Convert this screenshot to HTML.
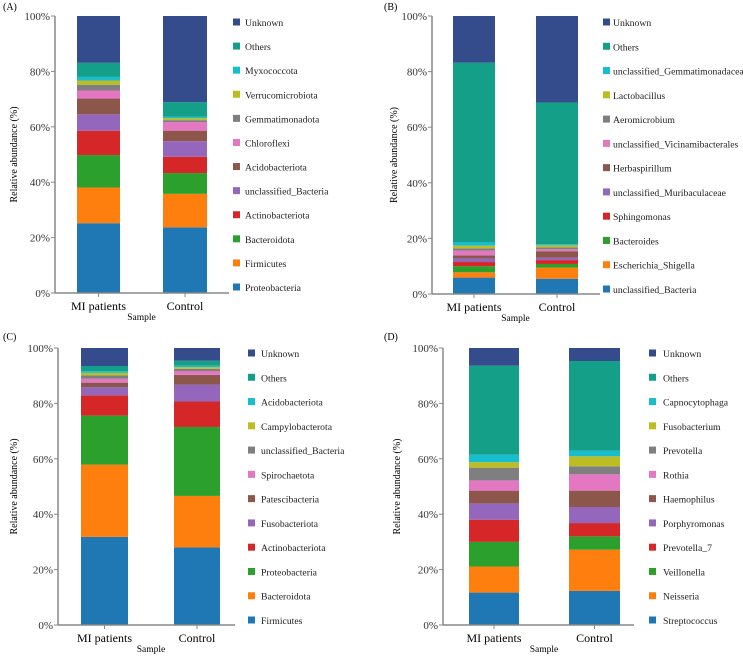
<!DOCTYPE html>
<html><head><meta charset="utf-8"><style>
html,body{margin:0;padding:0;background:#fff;}
svg{display:block;font-family:"Liberation Serif",serif;}
</style></head><body>
<svg id="fig" width="743" height="656" viewBox="0 0 743 656"></svg>
<script>
const categories = ["MI patients","Control"];
const yTicks = ["0%","20%","40%","60%","80%","100%"];
const yTickValues = [0,20,40,60,80,100];
const colorsList = ["#1f77b4","#ff7f0e","#2ca02c","#d62728","#9467bd","#8c564b","#e377c2","#7f7f7f","#bcbd22","#17becf","#14a088","#344b8c"];

const seriesA = ["Proteobacteria","Firmicutes","Bacteroidota","Actinobacteriota","unclassified_Bacteria","Acidobacteriota","Chloroflexi","Gemmatimonadota","Verrucomicrobiota","Myxococcota","Others","Unknown"];
const cumA_MI = [25.2,38.1,49.8,58.6,64.5,70.2,73.1,75.2,76.7,78.0,83.1,100];
const cumA_Ctrl = [23.7,35.8,43.3,49.2,54.8,58.6,61.7,62.4,63.1,63.6,68.9,100];

const seriesB = ["unclassified_Bacteria","Escherichia_Shigella","Bacteroides","Sphingomonas","unclassified_Muribaculaceae","Herbaspirillum","unclassified_Vicinamibacterales","Aeromicrobium","Lactobacillus","unclassified_Gemmatimonadaceae","Others","Unknown"];
const cumB_MI = [5.9,7.8,10.0,11.5,12.8,13.9,15.6,16.4,17.4,18.7,83.2,100];
const cumB_Ctrl = [5.5,9.5,10.8,12.2,13.1,15.4,16.1,16.8,17.5,17.9,68.9,100];

const seriesC = ["Firmicutes","Bacteroidota","Proteobacteria","Actinobacteriota","Fusobacteriota","Patescibacteria","Spirochaetota","unclassified_Bacteria","Campylobacterota","Acidobacteriota","Others","Unknown"];
const cumC_MI = [31.8,57.9,75.6,82.9,85.9,87.5,88.9,90.1,91.0,91.6,93.5,100];
const cumC_Ctrl = [28.0,46.6,71.5,80.7,86.8,90.3,91.7,92.5,93.1,93.6,95.4,100];

const seriesD = ["Streptococcus","Neisseria","Veillonella","Prevotella_7","Porphyromonas","Haemophilus","Rothia","Prevotella","Fusobacterium","Capnocytophaga","Others","Unknown"];
const cumD_MI = [11.7,21.1,30.0,38.0,43.9,48.5,52.2,56.8,58.8,61.5,93.6,100];
const cumD_Ctrl = [12.3,27.2,32.0,36.8,42.6,48.5,54.4,57.3,60.9,62.9,95.3,100];

const panels = [
 {label:"(A)",lx:3,ly:10,ax:55,top:16,bot:293,axEnd:229,bars:[[77,120],[163,207]],lgSq:233,lgTx:245,lgTop:22,lgBot:287,ytx:17,series:seriesA,data:[cumA_MI,cumA_Ctrl]},
 {label:"(B)",lx:384,ly:10,ax:432,top:16,bot:294,axEnd:600,bars:[[453,495],[536,578]],lgSq:603,lgTx:613,lgTop:22,lgBot:289,ytx:397,series:seriesB,data:[cumB_MI,cumB_Ctrl]},
 {label:"(C)",lx:3,ly:340,ax:58,top:348,bot:625,axEnd:235,bars:[[81,128],[174,220]],lgSq:248,lgTx:261,lgTop:353,lgBot:620,ytx:17,series:seriesC,data:[cumC_MI,cumC_Ctrl]},
 {label:"(D)",lx:384,ly:340,ax:443,top:348,bot:625,axEnd:634,bars:[[469,519],[569,620]],lgSq:649,lgTx:663,lgTop:353,lgBot:620,ytx:400,series:seriesD,data:[cumD_MI,cumD_Ctrl]}
];
const NS="http://www.w3.org/2000/svg";
const svg=document.getElementById("fig");
function mk(tag,attrs,parent,text){const e=document.createElementNS(NS,tag);for(const k in attrs)e.setAttribute(k,attrs[k]);if(text!==undefined)e.textContent=text;parent.appendChild(e);return e;}
panels.forEach((p,pi)=>{
 const g=mk("g",{},svg);
 
 
 const y=v=>p.bot-(v/100)*(p.bot-p.top);
 const lab=mk("text",{x:p.lx,y:p.ly,"font-size":"10"},g,p.label);
 
 
 p.data.forEach((cum,bi)=>{
  const [x0,x1]=p.bars[bi];
  let prev=0;
  cum.forEach((c,si)=>{
   const r=mk("rect",{x:x0,y:y(c),width:x1-x0,height:Math.max(0,y(prev)-y(c)),fill:colorsList[si]},g);
   
   
   prev=c;
  });
  const cl=mk("text",{x:(x0+x1)/2,y:p.bot+17,"font-size":"12","text-anchor":"middle"},g,categories[bi]);
  
  
  mk("line",{x1:(x0+x1)/2,x2:(x0+x1)/2,y1:p.bot,y2:p.bot+4,stroke:"#888","stroke-width":1},g);
 });
 const ya=mk("line",{x1:p.ax,x2:p.ax,y1:p.top,y2:p.bot,stroke:"#888","stroke-width":1.5},g);
 
 
 const xa=mk("line",{x1:p.ax,x2:p.axEnd,y1:p.bot,y2:p.bot,stroke:"#888","stroke-width":1.5},g);
 
 
 yTickValues.forEach((v,i)=>{
  mk("line",{x1:p.ax-4,x2:p.ax,y1:y(v),y2:y(v),stroke:"#888","stroke-width":1},g);
  const t=mk("text",{x:p.ax-5,y:y(v)+4,"font-size":"11","text-anchor":"end",fill:"#333"},g,yTicks[i]);
  
  
 });
 const yt=mk("text",{x:p.ytx,y:(p.top+p.bot)/2,"font-size":"10","text-anchor":"middle",transform:`rotate(-90 ${p.ytx} ${(p.top+p.bot)/2})`},g,"Relative abundance (%)");
 
 
 const xt=mk("text",{x:(p.bars[0][1]+p.bars[1][0])/2,y:p.bot+27,"font-size":"9.5","text-anchor":"middle"},g,"Sample");
 
 
 const n=p.series.length, step=(p.lgBot-p.lgTop)/(n-1);
 for(let k=0;k<n;k++){
  const si=n-1-k, cy=p.lgTop+k*step;
  const lg=mk("g",{},g);
  
  
  mk("rect",{x:p.lgSq,y:cy-3.5,width:7,height:7,fill:colorsList[si]},lg);
  mk("text",{x:p.lgTx,y:cy+4,"font-size":"9.7",fill:"#222"},lg,p.series[si]);
 }
});
</script>
</body></html>
